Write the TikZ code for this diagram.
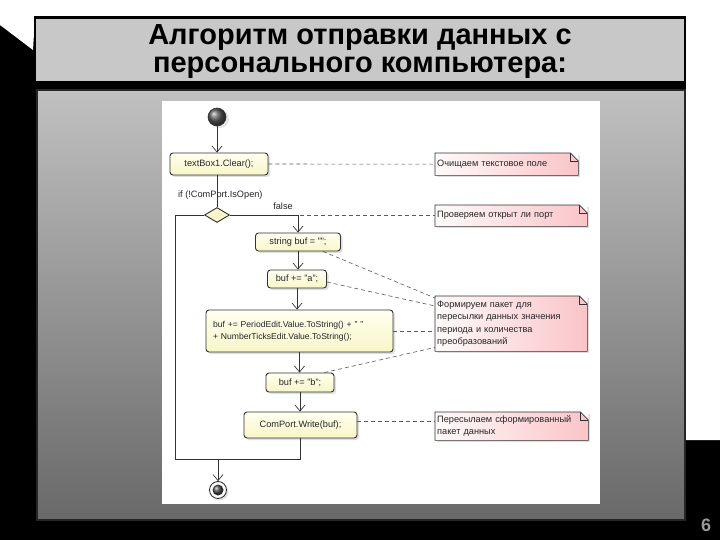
\documentclass[tikz,border=0pt]{standalone}
\usepackage{fontspec}
\setmainfont{Liberation Sans}
\usetikzlibrary{shapes.geometric,arrows.meta,shadows}
\definecolor{titlegray}{RGB}{200,200,200}
\definecolor{paneltop}{RGB}{192,192,192}
\definecolor{panelbot}{RGB}{105,105,105}
\definecolor{boxtop}{RGB}{255,255,240}
\definecolor{boxbot}{RGB}{248,246,200}
\definecolor{noteleft}{RGB}{255,250,250}
\definecolor{noteright}{RGB}{250,196,200}
\definecolor{edge}{RGB}{50,50,50}
\newcommand\notefold[1]{%
  \fill[white] ([xshift=-8pt]#1.north east) -- (#1.north east) -- ([yshift=-8pt]#1.north east) -- cycle;
  \draw[edge, line width=0.6pt] (#1.north west) -- ([xshift=-8pt]#1.north east) -- ([yshift=-8pt]#1.north east) -- (#1.south east) -- (#1.south west) -- cycle;
  \draw[edge, line width=0.5pt] ([xshift=-8pt]#1.north east) |- ([yshift=-8pt]#1.north east);}
\begin{document}
\begin{tikzpicture}[x=1pt,y=-1pt,
  actbox/.style={draw=edge, line width=0.9pt, rounded corners=3pt, top color=boxtop, bottom color=boxbot,
    inner sep=0pt, font=\fontsize{9.2}{12}\selectfont, text=black!85,
    drop shadow={shadow xshift=2pt, shadow yshift=-2pt, opacity=0.25}},
  notebox/.style={left color=noteleft, right color=noteright, anchor=north west, inner sep=2pt,
    align=left, font=\fontsize{9.2}{12.2}\selectfont, text=black!85,
    drop shadow={shadow xshift=2pt, shadow yshift=-2pt, opacity=0.25}},
  flow/.style={draw=black!80, line width=0.7pt},
  arr/.style={flow, -{Straight Barb[length=6pt,width=10pt,line width=0.7pt]}},
  link/.style={draw=black!65, line width=0.6pt, dash pattern=on 4pt off 3pt},
  lbl/.style={font=\fontsize{9.2}{10}\selectfont, text=black!85, inner sep=0pt}]
\useasboundingbox (0,0) rectangle (720,540);
% slide background
\fill[black] (0,0) rectangle (720,540);
\fill[white] (0,0) -- (720,0) -- (720,440) -- (686,440) -- (686,17) -- (35,17) -- (33,50) -- (0,25) -- cycle;
% title
\node[draw=black, line width=2.5pt, fill=titlegray, minimum width=650pt, minimum height=65pt] (title) at (360,50) {};
\node[align=center, font=\fontsize{29}{28}\selectfont\bfseries, inner sep=0pt] (ttext) at (360,52)
  {Алгоритм отправки данных с\\персонального компьютера:};
% panel
\node[draw=black!85, line width=2pt, top color=paneltop, bottom color=panelbot,
  minimum width=648pt, minimum height=430pt, inner sep=0pt] (panel) at (361,305) {};
% slide number
\node[text=gray!80, font=\fontsize{18}{18}\selectfont\bfseries] (num) at (706,525) {6};
% diagram canvas
\node[fill=white, minimum width=438pt, minimum height=403pt, inner sep=0pt] (canvas) at (381,302.5) {};
% start
\node[circle, draw=black!80, line width=0.6pt, ball color=gray!70!black, minimum size=18pt, inner sep=0pt,
  drop shadow={shadow xshift=3pt, shadow yshift=-2pt, opacity=0.2}] (start) at (217,117) {};
% activities
\node[actbox, minimum width=98pt, minimum height=22pt] (n1) at (219,164) {textBox1.Clear();};
\node[diamond, draw=edge, line width=0.9pt, fill=boxbot, minimum width=25pt, minimum height=15pt, inner sep=0pt] (d) at (217,215) {};
\node[actbox, minimum width=85pt, minimum height=18pt] (n2) at (298,242) {string buf = "";};
\node[actbox, minimum width=59pt, minimum height=18pt] (n3) at (297,279) {buf += "a";};
\node[actbox, minimum width=187pt, minimum height=42pt, align=left, text width=173pt,
  font=\fontsize{8.6}{12}\selectfont] (n4) at (299.5,331)
  {buf += PeriodEdit.Value.ToString() + " "\\+ NumberTicksEdit.Value.ToString();};
\node[actbox, minimum width=68pt, minimum height=19pt] (n5) at (300,382.5) {buf += "b";};
\node[actbox, minimum width=113pt, minimum height=26pt] (n6) at (300.5,425) {ComPort.Write(buf);};
% end
\node[circle, draw=black!85, line width=0.8pt, fill=white, minimum size=17pt, inner sep=0pt,
  drop shadow={shadow xshift=2pt, shadow yshift=-2pt, opacity=0.2}] (end) at (218,490) {};
\node[circle, ball color=gray!60!black, minimum size=11pt, inner sep=0pt] (endin) at (end.center) {};
% notes
\node[notebox, minimum width=143pt, minimum height=22pt, text width=139pt] (c1) at (435,153) {Очищаем текстовое поле};
\node[notebox, minimum width=152pt, minimum height=21pt, text width=148pt] (c2) at (435,205) {Проверяем открыт ли порт};
\node[notebox, minimum width=152pt, minimum height=55pt, text width=148pt] (c3) at (435,296)
  {Формируем пакет для\\пересылки данных значения\\периода и количества\\преобразований};
\node[notebox, minimum width=153pt, minimum height=28pt, text width=149pt] (c4) at (435,412)
  {Пересылаем сформированный\\пакет данных};
\notefold{c1}\notefold{c2}\notefold{c3}\notefold{c4}
% dashed links
\draw[link] (n1.east) -- (c1.west);
\draw[link] (d.east) -- (d.east -| c2.west);
\draw[link] ([xshift=-18pt]n2.south east) -- ([yshift=-2pt]c3.north west);
\draw[link] ([yshift=-3pt]n3.east) -- ([yshift=-10pt]c3.north west);
\draw[link] (n4.east) -- (n4.east -| c3.west);
\draw[link] ([xshift=-10pt]n5.north east) -- ([yshift=4pt]c3.south west);
\draw[link] ([yshift=4pt]n6.east) -- ([yshift=4pt]n6.east -| c4.west);
% flow
\coordinate (m) at (218,459);
\draw[arr] (start) -- (start |- n1.north);
\draw[flow] (n1.south -| start) -- (d.north);
\draw[arr] (d.east) -| (n2.north);
\draw[flow] (d.west) -- ++(-29,0) |- (m);
\draw[arr] (n2.south) -- (n2.south |- n3.north);
\draw[arr] (n3.south) -- (n3.south |- n4.north);
\draw[arr] (n4.south) -- (n4.south |- n5.north);
\draw[arr] (n5.south) -- (n5.south |- n6.north);
\draw[flow] (n6.south) |- (m);
\draw[arr] (m) -- (end.north);
% labels
\node[lbl, anchor=south west] (cond) at (178,200) {if (!ComPort.IsOpen)};
\node[lbl, anchor=south] (fl) at (283,210) {false};
\end{tikzpicture}
\end{document}
